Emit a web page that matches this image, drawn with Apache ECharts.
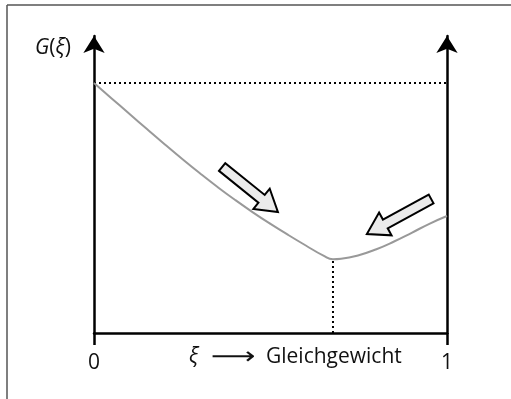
<!DOCTYPE html>
<html>
<head>
<meta charset="utf-8">
<script src="https://cdn.jsdelivr.net/npm/echarts@6/dist/echarts.min.js"></script>
<style>
  html, body { margin: 0; padding: 0; background: #fff; }
  #chart { width: 511px; height: 399px; }
</style>
</head>
<body>
<div id="chart"></div>
<script>
// Reaction coordinate ξ (0 = reactants, 1 = products)
const xi = [0, 0.05, 0.1, 0.15, 0.2, 0.25, 0.3, 0.35, 0.4, 0.45, 0.5, 0.55, 0.6, 0.65, 0.677, 0.7, 0.75, 0.8, 0.85, 0.9, 0.95, 1];
// Free enthalpy G(ξ), arbitrary units
const gibbs = [250, 234.6, 219.2, 203.9, 188.8, 174.0, 159.7, 146.0, 133.0, 120.7, 109.1, 98.1, 87.5, 77.3, 73.7, 74.2, 77.8, 83.8, 91.5, 100.2, 109.2, 117];
// Equilibrium position and the starting value of G
const xiEq = 0.677;
const gEq = 73.7;
const gStart = 250;
// Arrows showing the direction of spontaneous change: [ξ tail, G tail, ξ tip, G tip]
const arrows = [
  [0.363, 166, 0.521, 121],
  [0.955, 134, 0.773, 99]
];
const tickLabels = { 0: '0', 1: '1' };

const chart = echarts.init(document.getElementById('chart'), null, { renderer: 'canvas' });
const FONT = '"Open Sans", "DejaVu Sans", sans-serif';
const FS = 21;

const axisLineStyle = { color: '#000', width: 2.5 };

function arrowShape(params, api) {
  const d = arrows[params.dataIndex];
  const a = api.coord([d[0], d[1]]);
  const b = api.coord([d[2], d[3]]);
  const dx = b[0] - a[0], dy = b[1] - a[1];
  const len = Math.hypot(dx, dy);
  const ux = dx / len, uy = dy / len;
  const nx = -uy, ny = ux;
  const shaft = 5, head = 13, headLen = 21;
  const bx = b[0] - ux * headLen, by = b[1] - uy * headLen;
  const pts = [
    [a[0] + nx * shaft, a[1] + ny * shaft],
    [bx + nx * shaft, by + ny * shaft],
    [bx + nx * head, by + ny * head],
    [b[0], b[1]],
    [bx - nx * head, by - ny * head],
    [bx - nx * shaft, by - ny * shaft],
    [a[0] - nx * shaft, a[1] - ny * shaft]
  ];
  return {
    type: 'polygon',
    shape: { points: pts },
    style: { fill: '#ebebeb', stroke: '#000', lineWidth: 2, lineJoin: 'miter' }
  };
}

function sideAxis(pos) {
  return {
    type: 'value',
    min: 0,
    max: 297,
    position: pos,
    axisLine: { show: true, onZero: false, lineStyle: axisLineStyle, symbol: ['none', 'arrow'], symbolSize: [16, 17] },
    axisTick: { show: false },
    axisLabel: { show: false },
    splitLine: { show: false }
  };
}

chart.setOption({
  animation: false,
  backgroundColor: '#fff',
  grid: { left: 94, right: 64, top: 36, bottom: 66 },
  xAxis: {
    type: 'value',
    min: 0,
    max: 1,
    interval: 1,
    axisLine: { show: true, lineStyle: axisLineStyle },
    axisTick: { show: true, inside: false, length: 12, lineStyle: axisLineStyle },
    splitLine: { show: false },
    axisLabel: {
      margin: 20,
      fontFamily: FONT,
      fontSize: FS,
      color: '#111',
      formatter: v => tickLabels[v] ?? ''
    }
  },
  yAxis: [sideAxis('left'), sideAxis('right')],
  series: [
    {
      type: 'line',
      data: [[0, gStart], [1, gStart]],
      showSymbol: false,
      lineStyle: { color: '#000', width: 2, type: [2, 3] },
      z: 1
    },
    {
      type: 'line',
      data: [[xiEq, 0], [xiEq, gEq]],
      showSymbol: false,
      lineStyle: { color: '#000', width: 2, type: [2, 3] },
      z: 1
    },
    {
      type: 'line',
      data: xi.map((x, i) => [x, gibbs[i]]),
      smooth: 0.5,
      showSymbol: false,
      lineStyle: { color: '#999', width: 2 },
      z: 2
    },
    {
      type: 'custom',
      data: arrows.map((a, i) => i),
      renderItem: arrowShape,
      z: 3
    }
  ],
  graphic: [
    { type: 'line', shape: { x1: 7, y1: 5, x2: 511, y2: 5 }, style: { stroke: '#555', lineWidth: 1.5 } },
    { type: 'line', shape: { x1: 7, y1: 5, x2: 7, y2: 399 }, style: { stroke: '#555', lineWidth: 1.5 } },
    {
      type: 'text',
      left: 35,
      top: 38,
      style: {
        text: '{i|G}{n|(}{i|ξ}{n|)}',
        rich: {
          i: { fontFamily: FONT, fontSize: FS, fontStyle: 'italic', fill: '#111' },
          n: { fontFamily: FONT, fontSize: FS, fill: '#111' }
        }
      }
    },
    {
      type: 'text',
      left: 189,
      top: 347,
      style: { text: 'ξ', fontFamily: FONT, fontSize: FS, fontStyle: 'italic', fill: '#111' }
    },
    {
      type: 'text',
      x: 211,
      y: 346,
      scaleX: 1.3,
      style: { text: '⟶', fontFamily: '"DejaVu Sans", sans-serif', fontSize: 24, fill: '#111' }
    },
    {
      type: 'text',
      left: 266,
      top: 347,
      style: { text: 'Gleichgewicht', fontFamily: FONT, fontSize: FS, fill: '#111' }
    }
  ]
});
</script>
</body>
</html>
